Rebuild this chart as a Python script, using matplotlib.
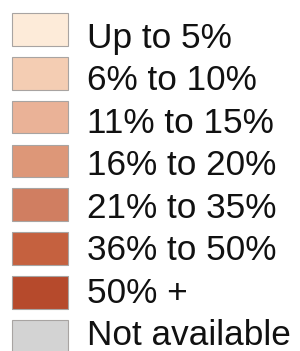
import matplotlib.pyplot as plt

# Legend classes and fill colours
labels = ["Up to 5%", "6% to 10%", "11% to 15%", "16% to 20%",
          "21% to 35%", "36% to 50%", "50% +", "Not available"]
colors = ["#fdebd9", "#f4cdb3", "#eab297", "#dd9778", "#d07e61",
          "#c5613f", "#b64a2c", "#d3d3d3"]

fig = plt.figure(figsize=(3.0, 3.51), dpi=100)
ax = fig.add_axes([0, 0, 1, 1])

rows = list(range(len(labels)))
ax.barh(rows, [56] * len(rows), left=12, height=0.74, color=colors,
        edgecolor="#a8a4a2", linewidth=0.8)

for i, lab in enumerate(labels):
    ax.text(87, i * 0.97 + 0.42, lab, fontsize=25.3, family="Liberation Sans",
            va="baseline", ha="left", color="#111111")

ax.set_xlim(0, 300)
ax.set_ylim(351 / 43.8 - 29.5 / 43.8, -29.5 / 43.8)
ax.axis("off")

fig.savefig("out.png", dpi=100)
